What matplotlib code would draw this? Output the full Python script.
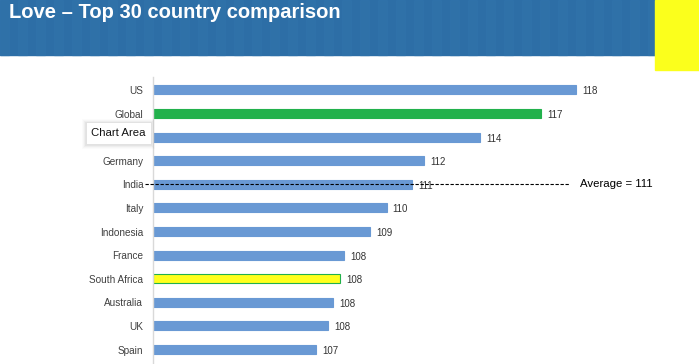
import matplotlib.pyplot as plt
import matplotlib.transforms as mtransforms
from matplotlib.patches import Rectangle

# data (labels shown rounded)
countries = ['US', 'Global', 'China', 'Germany', 'India', 'Italy', 'Indonesia',
             'France', 'South Africa', 'Australia', 'UK', 'Spain']
scores = [118.2, 116.7, 114.1, 111.7, 111.2, 110.1, 109.4,
          108.3, 108.1, 107.8, 107.6, 107.1]
average = 111

BLUE = '#6999D4'
GREEN = '#22B14C'
YELLOW = '#FFFF1C'

W, H = 699, 364
fig = plt.figure(figsize=(W / 100, H / 100), dpi=100)

# header band + yellow corner block
fig.patches.append(Rectangle((0, 1 - 55 / H), 655 / W, 55 / H,
                             transform=fig.transFigure, color='#2D6EA6', zorder=0))
for i in range(0, 655, 18):
    fig.patches.append(Rectangle((i / W, 1 - 55 / H), 9 / W, 55 / H,
                                 transform=fig.transFigure, color='#3174AB',
                                 alpha=0.5, zorder=0))
fig.patches.append(Rectangle((655 / W, 1 - 70 / H), 44 / W, 70 / H,
                             transform=fig.transFigure, color='#FBFF1C', zorder=0))
fig.text(9 / W, 1 - 13 / H, 'Love \u2013 Top 30 country comparison', color='white',
         fontsize=14.5, fontweight='bold', va='center', ha='left',
         family='Liberation Sans')

# axes: top at y=77px, rows every ~23.6px, extends past the bottom edge
row = 23.6
top_px, left_px, right_px = 77, 153, 660
n_rows_view = 13.05
bottom_px = top_px + n_rows_view * row
ax = fig.add_axes([left_px / W, 1 - bottom_px / H, (right_px - left_px) / W,
                   (bottom_px - top_px) / H])
ax.set_xlim(100.12, 100.12 + (right_px - left_px) / 23.4)
ax.set_ylim(-0.55 + n_rows_view, -0.55)

colors = [BLUE] * len(countries)
edges = [BLUE] * len(countries)
colors[countries.index('Global')] = GREEN
edges[countries.index('Global')] = GREEN
colors[countries.index('South Africa')] = YELLOW
edges[countries.index('South Africa')] = GREEN

y = list(range(len(countries)))
ax.barh(y, [s - 100.12 for s in scores], left=100.12, height=0.38,
        color=colors, edgecolor=edges, linewidth=0.8, zorder=2)

for yi, s in zip(y, scores):
    ax.annotate(f'{round(s)}', (s, yi), xytext=(4.5, -1), textcoords='offset points',
                va='center', ha='left', fontsize=7, color='#333333',
                family='Liberation Sans')

ax.set_yticks(y)
ax.set_yticklabels(countries, fontsize=7.2, color='#404040', family='Liberation Sans')
ax.tick_params(axis='y', length=0, pad=7)
ax.set_xticks([])
for s in ['top', 'right', 'bottom']:
    ax.spines[s].set_visible(False)
ax.spines['left'].set_color('#D9D9D9')
ax.spines['left'].set_linewidth(1)

# average line, spans past the axis on both sides
iy = countries.index('India')
tr = mtransforms.blended_transform_factory(fig.transFigure, ax.transData)
ax.plot([145 / W, 569 / W], [iy, iy], transform=tr, color='black', lw=0.8,
        ls=(0, (3, 1.5)), clip_on=False, zorder=3)
ax.text(580 / W, iy, f'Average = {average}', transform=tr, fontsize=8.2,
        va='center', ha='left', color='black', family='Liberation Sans')

# tooltip from the screenshot (box with a soft shadow)
bx, by, bw, bh = 86, 122, 65, 22
for k, a in [(4, 0.015), (3, 0.02), (2, 0.03), (1, 0.04)]:
    fig.patches.append(Rectangle(((bx - k) / W, 1 - (by + bh + k + 1) / H),
                                 (bw + 2 * k) / W, (bh + 2 * k) / H,
                                 transform=fig.transFigure, color='black',
                                 alpha=a, lw=0, zorder=5))
fig.patches.append(Rectangle((bx / W, 1 - (by + bh) / H), bw / W, bh / H,
                             transform=fig.transFigure, fc='white', ec='#E0E0E0',
                             lw=0.6, zorder=6))
fig.text((bx + bw / 2) / W, 1 - (by + bh / 2) / H, 'Chart Area', fontsize=8.2,
         color='#111111', ha='center', va='center', family='Liberation Sans',
         zorder=7)

fig.savefig('out.png', dpi=100)
